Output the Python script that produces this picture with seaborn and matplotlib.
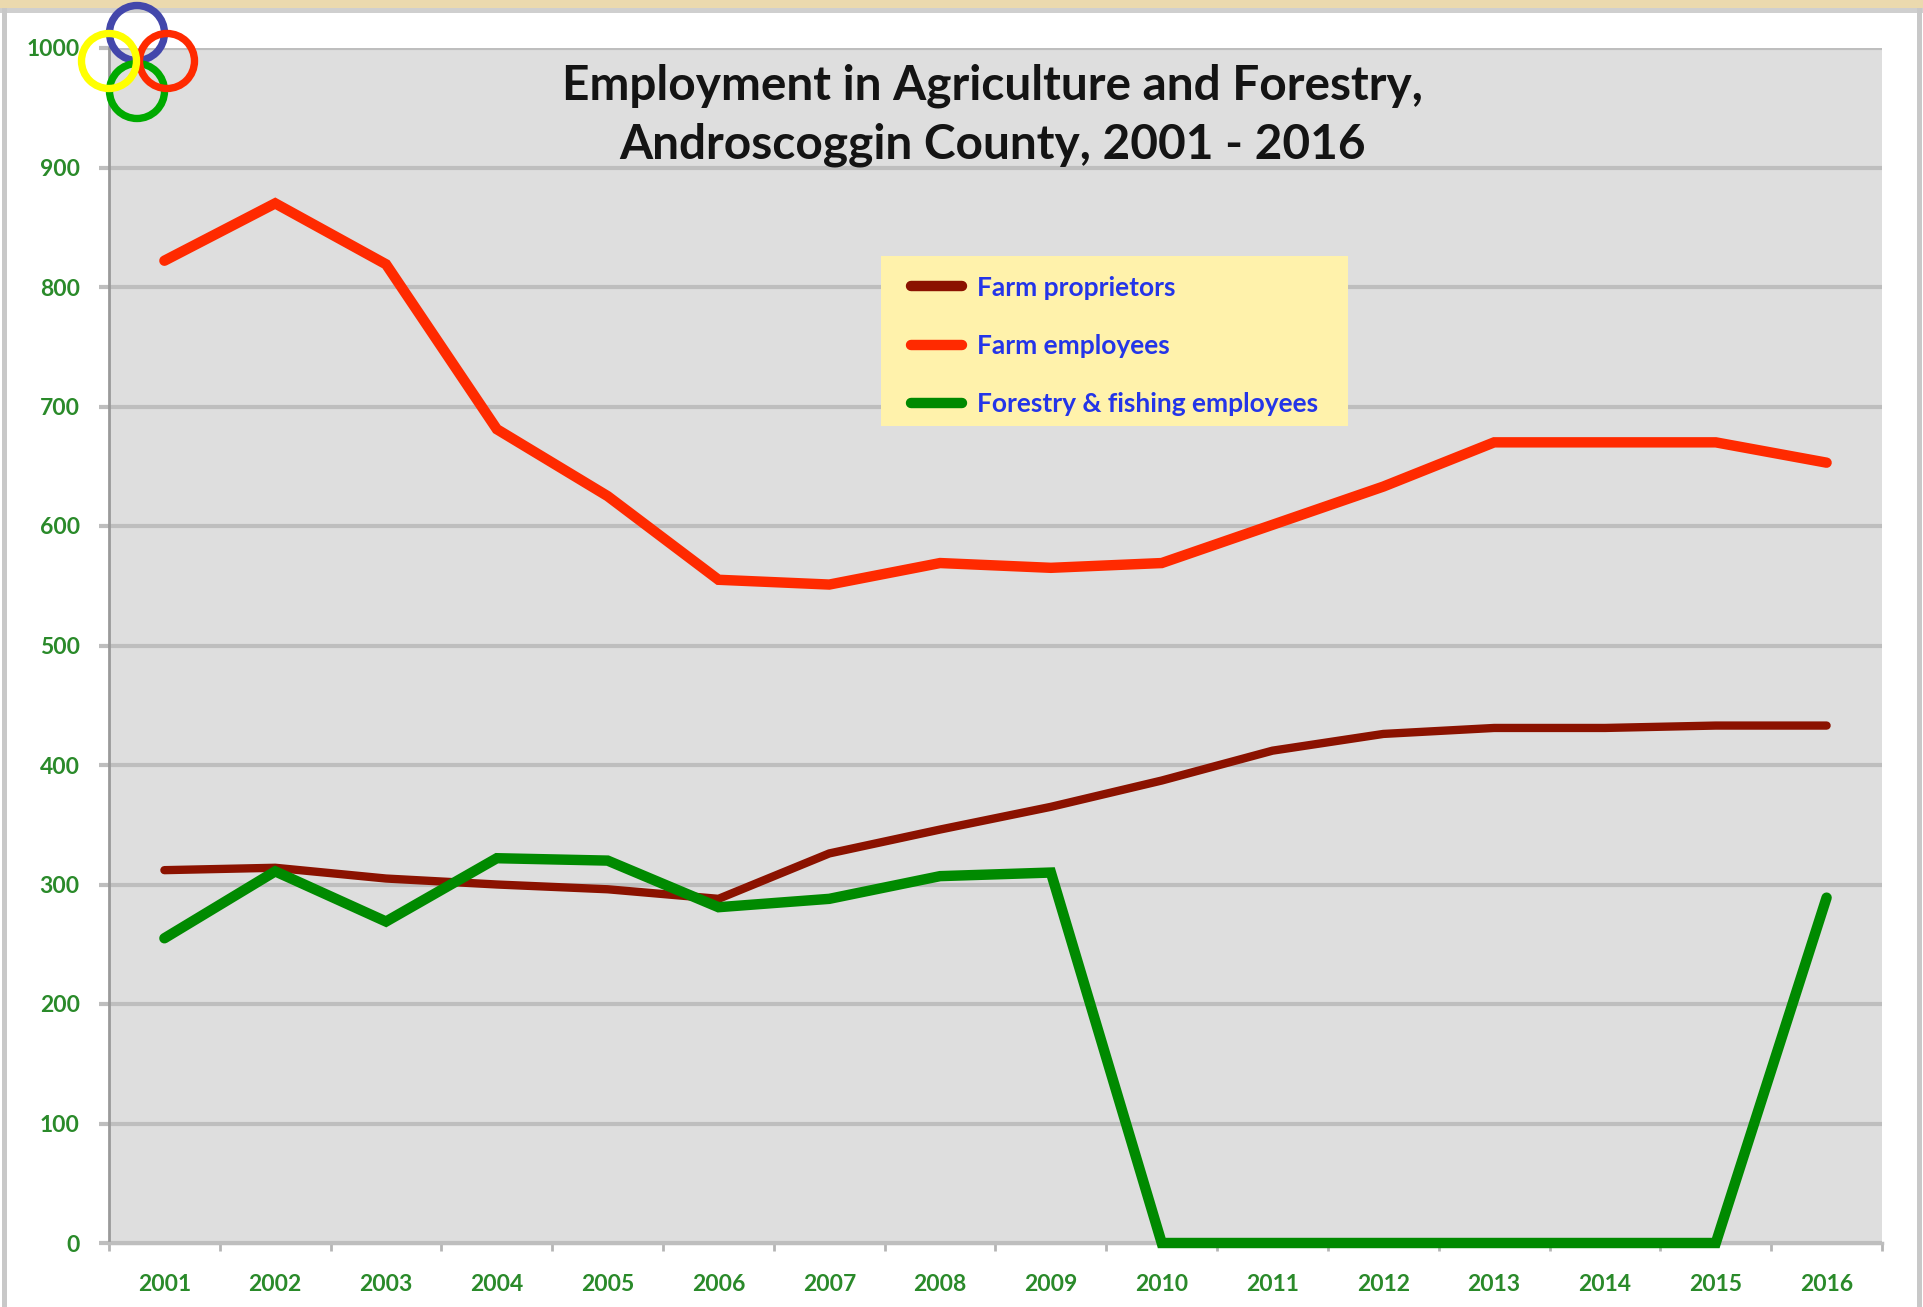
import matplotlib
matplotlib.use('Agg')
import matplotlib.pyplot as plt
from matplotlib.patches import Circle, Rectangle
import pandas as pd
import seaborn as sns

years = list(range(2001, 2017))
farm_proprietors = [312, 314, 305, 300, 296, 288, 326, 346, 365, 387, 412, 426, 431, 431, 433, 433]
farm_employees = [822, 870, 819, 681, 625, 555, 551, 569, 565, 569, 601, 633, 670, 670, 670, 653]
forestry_fishing = [255, 311, 269, 322, 320, 281, 288, 307, 310, 0, 0, 0, 0, 0, 0, 289]
y_ticks = list(range(0, 1001, 100))

W, H = 1923, 1307
LEFT, RIGHT, TOP, BOTTOM = 109, 1882, 48, 1243

sns.set_theme(style='white')
plt.rcParams['font.family'] = ['Lato', 'DejaVu Sans']

df = pd.DataFrame({
    'pos': list(range(len(years))) * 3,
    'value': farm_proprietors + farm_employees + forestry_fishing,
    'series': ['Farm proprietors'] * 16 + ['Farm employees'] * 16 + ['Forestry & fishing employees'] * 16,
})
palette = {'Farm proprietors': '#8B1200', 'Farm employees': '#FF2A00',
           'Forestry & fishing employees': '#008A00'}

fig = plt.figure(figsize=(W / 100, H / 100), dpi=100, facecolor='white')
ax = fig.add_axes([LEFT / W, 1 - BOTTOM / H, (RIGHT - LEFT) / W, (BOTTOM - TOP) / H])
ax.set_facecolor('#DEDEDE')

sns.lineplot(data=df, x='pos', y='value', hue='series', palette=palette, linewidth=7.5,
             ax=ax, solid_capstyle='round', solid_joinstyle='miter', clip_on=False, zorder=3)
for line in ax.get_lines()[:1]:
    line.set_linewidth(6)

ax.set_xlim(-0.5, 15.5)
ax.set_ylim(0, 1000)
ax.set_xlabel('')
ax.set_ylabel('')

# year labels sit between the tick marks
ax.set_xticks([i - 0.5 for i in range(len(years) + 1)])
ax.set_xticklabels([])
ax.set_xticks(range(len(years)), minor=True)
ax.set_xticklabels(years, minor=True)
ax.set_yticks(y_ticks)
ax.tick_params(axis='x', which='major', length=6, width=2, color='#B5B5B5', bottom=True)
ax.tick_params(axis='x', which='minor', length=0, pad=22.5, labelsize=16.5, labelcolor='#2A8A2A')
ax.tick_params(axis='y', length=7, width=3, color='#BEBEBE', left=True, pad=14,
               labelsize=16.5, labelcolor='#2A8A2A')
for lab in ax.get_xticklabels(minor=True) + ax.get_yticklabels():
    lab.set_fontweight('bold')

ax.grid(True, axis='y', color='#BEBEBE', linewidth=3)
ax.grid(False, axis='x')
ax.set_axisbelow(True)
sns.despine(ax=ax, top=True, right=True)
ax.spines['left'].set_color('#9A9A9A')
ax.spines['left'].set_linewidth(2)
ax.spines['bottom'].set_color('#BEBEBE')
ax.spines['bottom'].set_linewidth(2.5)

ax.text(0.4985, (BOTTOM - 115.5) / (BOTTOM - TOP), 'Employment in Agriculture and Forestry,\nAndroscoggin County, 2001 - 2016',
        transform=ax.transAxes, ha='center', va='center', fontsize=34.4, fontweight='bold',
        color='#141414', linespacing=1.4)

# legend box is its own patch so the padding can differ per side
ax.add_patch(Rectangle(((881 - LEFT) / (RIGHT - LEFT), (BOTTOM - 426) / (BOTTOM - TOP)),
                       467 / (RIGHT - LEFT), 170 / (BOTTOM - TOP),
                       transform=ax.transAxes, facecolor='#FFF2AB', edgecolor='none', zorder=2))
handles, labels = ax.get_legend_handles_labels()
leg = ax.legend(handles, labels, loc='upper left',
                bbox_to_anchor=((911 - LEFT) / (RIGHT - LEFT), (BOTTOM - 275.5) / (BOTTOM - TOP)),
                frameon=False, labelcolor='#2435E8', handlelength=1.95, handletextpad=0.57,
                labelspacing=1.3, borderpad=0, borderaxespad=0, prop={'weight': 'bold', 'size': 19})
for h in leg.get_lines():
    h.set_linewidth(7.5)

# page frame and the ring logo, placed in pixel coordinates
over = fig.add_axes([0, 0, 1, 1], facecolor='none', zorder=5)
over.set_xlim(0, W)
over.set_ylim(H, 0)
over.axis('off')
over.add_patch(Rectangle((0, 0), W, 8, color='#EBD9AE', lw=0))
over.add_patch(Rectangle((0, 8), W, 5, color='#CFCFCF', lw=0))
over.add_patch(Rectangle((2, 8), 5, H - 8, color='#C8C8C8', lw=0))
over.add_patch(Rectangle((1917, 8), 5, H - 8, color='#C8C8C8', lw=0))
rings = [((137, 33), '#4347AB'), ((137, 91), '#00AA00'), ((167, 61), '#FF2A00'), ((109, 61), '#FFFF00')]
for center, color in rings:
    over.add_patch(Circle(center, 27.5, fill=False, edgecolor=color, linewidth=5.3))

fig.savefig('out.png', dpi=100)
